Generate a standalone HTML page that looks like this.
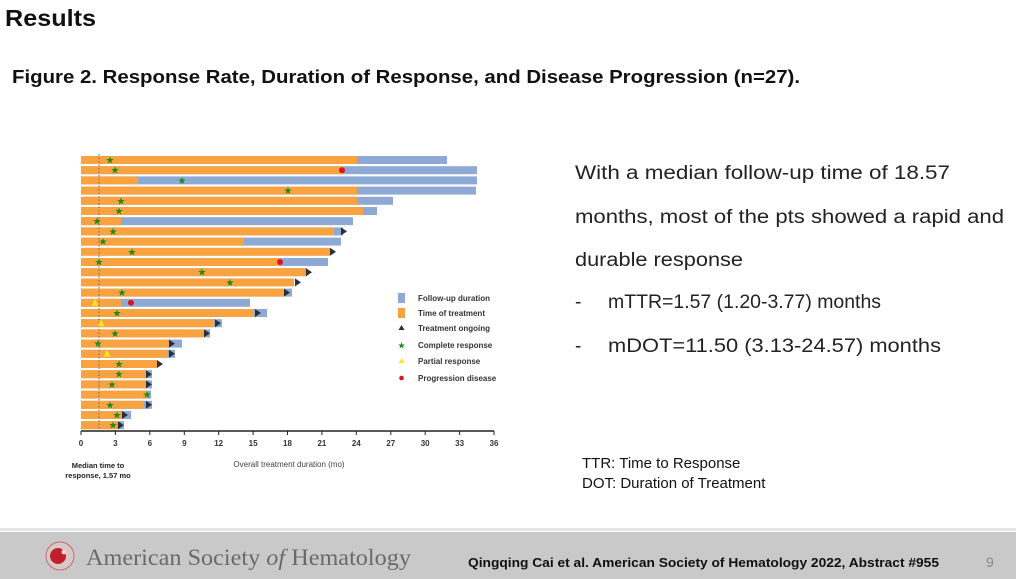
<!DOCTYPE html>
<html><head><meta charset="utf-8"><style>
html,body{margin:0;padding:0;background:#fff;}
svg{display:block;}
</style></head><body>
<svg width="1016" height="579" viewBox="0 0 1016 579" xmlns="http://www.w3.org/2000/svg" font-family="Liberation Sans, sans-serif">
<text x="5" y="26" font-size="23" font-weight="bold" fill="#111" textLength="91" lengthAdjust="spacingAndGlyphs">Results</text>
<text x="12" y="83" font-size="18" font-weight="bold" fill="#111" textLength="788" lengthAdjust="spacingAndGlyphs">Figure 2. Response Rate, Duration of Response, and Disease Progression (n=27).</text>

<g id="bars">
<!-- row: y = c-4 -->
<rect x="81" y="156" width="366" height="8" fill="#8eaad4"/><rect x="81" y="156" width="276" height="8" fill="#f9a340"/>
<rect x="81" y="166.2" width="396" height="8" fill="#8eaad4"/><rect x="81" y="166.2" width="262" height="8" fill="#f9a340"/>
<rect x="81" y="176.4" width="396" height="8" fill="#8eaad4"/><rect x="81" y="176.4" width="57" height="8" fill="#f9a340"/>
<rect x="81" y="186.6" width="395" height="8" fill="#8eaad4"/><rect x="81" y="186.6" width="276" height="8" fill="#f9a340"/>
<rect x="81" y="196.8" width="312" height="8" fill="#8eaad4"/><rect x="81" y="196.8" width="276" height="8" fill="#f9a340"/>
<rect x="81" y="207" width="296" height="8" fill="#8eaad4"/><rect x="81" y="207" width="282" height="8" fill="#f9a340"/>
<rect x="81" y="217.2" width="272" height="8" fill="#8eaad4"/><rect x="81" y="217.2" width="40" height="8" fill="#f9a340"/>
<rect x="81" y="227.4" width="262" height="8" fill="#8eaad4"/><rect x="81" y="227.4" width="253" height="8" fill="#f9a340"/>
<rect x="81" y="237.6" width="260" height="8" fill="#8eaad4"/><rect x="81" y="237.6" width="163" height="8" fill="#f9a340"/>
<rect x="81" y="247.8" width="249" height="8" fill="#f9a340"/>
<rect x="81" y="258" width="247" height="8" fill="#8eaad4"/><rect x="81" y="258" width="199" height="8" fill="#f9a340"/>
<rect x="81" y="268.2" width="226" height="8" fill="#8eaad4"/><rect x="81" y="268.2" width="224" height="8" fill="#f9a340"/>
<rect x="81" y="278.4" width="213" height="8" fill="#f9a340"/>
<rect x="81" y="288.6" width="211" height="8" fill="#8eaad4"/><rect x="81" y="288.6" width="203" height="8" fill="#f9a340"/>
<rect x="81" y="298.8" width="169" height="8" fill="#8eaad4"/><rect x="81" y="298.8" width="40" height="8" fill="#f9a340"/>
<rect x="81" y="309" width="186" height="8" fill="#8eaad4"/><rect x="81" y="309" width="173" height="8" fill="#f9a340"/>
<rect x="81" y="319.2" width="141" height="8" fill="#8eaad4"/><rect x="81" y="319.2" width="133" height="8" fill="#f9a340"/>
<rect x="81" y="329.4" width="129" height="8" fill="#8eaad4"/><rect x="81" y="329.4" width="124" height="8" fill="#f9a340"/>
<rect x="81" y="339.6" width="101" height="8" fill="#8eaad4"/><rect x="81" y="339.6" width="89" height="8" fill="#f9a340"/>
<rect x="81" y="349.8" width="94" height="8" fill="#8eaad4"/><rect x="81" y="349.8" width="87" height="8" fill="#f9a340"/>
<rect x="81" y="360" width="76" height="8" fill="#f9a340"/>
<rect x="81" y="370.2" width="71" height="8" fill="#8eaad4"/><rect x="81" y="370.2" width="66" height="8" fill="#f9a340"/>
<rect x="81" y="380.4" width="71" height="8" fill="#8eaad4"/><rect x="81" y="380.4" width="65" height="8" fill="#f9a340"/>
<rect x="81" y="390.6" width="70" height="8" fill="#8eaad4"/><rect x="81" y="390.6" width="66" height="8" fill="#f9a340"/>
<rect x="81" y="400.8" width="71" height="8" fill="#8eaad4"/><rect x="81" y="400.8" width="63" height="8" fill="#f9a340"/>
<rect x="81" y="411" width="50" height="8" fill="#8eaad4"/><rect x="81" y="411" width="42" height="8" fill="#f9a340"/>
<rect x="81" y="421.2" width="43" height="8" fill="#8eaad4"/><rect x="81" y="421.2" width="36" height="8" fill="#f9a340"/>
</g>
<line x1="99" y1="154" x2="99" y2="431" stroke="#666" stroke-width="1" stroke-dasharray="1.5,2"/>
<g fill="#2b2f3a">
<path d="M341,227.4 l6,4 l-6,4z"/>
<path d="M330,247.8 l6,4 l-6,4z"/>
<path d="M306,268.2 l6,4 l-6,4z"/>
<path d="M295,278.4 l6,4 l-6,4z"/>
<path d="M284,288.6 l6,4 l-6,4z"/>
<path d="M255,309 l6,4 l-6,4z"/>
<path d="M215,319.2 l6,4 l-6,4z"/>
<path d="M204,329.4 l6,4 l-6,4z"/>
<path d="M169,339.6 l6,4 l-6,4z"/>
<path d="M169,349.8 l6,4 l-6,4z"/>
<path d="M157,360 l6,4 l-6,4z"/>
<path d="M146,370.2 l6,4 l-6,4z"/>
<path d="M146,380.4 l6,4 l-6,4z"/>
<path d="M146,400.8 l6,4 l-6,4z"/>
<path d="M122,411 l6,4 l-6,4z"/>
<path d="M118,421.2 l6,4 l-6,4z"/>
</g>
<g fill="#1a8a1a" font-size="10" text-anchor="middle">
<text x="110" y="163.5">★</text><text x="115" y="173.7">★</text><text x="182" y="183.9">★</text>
<text x="288" y="194.1">★</text><text x="121" y="204.3">★</text><text x="119" y="214.5">★</text>
<text x="97" y="224.7">★</text><text x="113" y="234.9">★</text><text x="103" y="245.1">★</text>
<text x="132" y="255.3">★</text><text x="99" y="265.5">★</text><text x="202" y="275.7">★</text>
<text x="230" y="285.9">★</text><text x="122" y="296.1">★</text><text x="117" y="316.5">★</text>
<text x="115" y="336.9">★</text><text x="98" y="347.1">★</text><text x="119" y="367.5">★</text>
<text x="119" y="377.7">★</text><text x="112" y="387.9">★</text><text x="147" y="398.1">★</text>
<text x="110" y="408.3">★</text><text x="117" y="418.5">★</text><text x="113" y="428.7">★</text>
</g>
<g fill="#ffe81a">
<path d="M95,298.8 l3.5,7 h-7z"/><path d="M101,319.2 l3.5,7 h-7z"/><path d="M107,349.8 l3.5,7 h-7z"/>
</g>
<g fill="#e0141e">
<circle cx="342" cy="170.2" r="3"/><circle cx="280" cy="262" r="3"/><circle cx="131" cy="302.8" r="3"/>
</g>
<!-- axis -->
<line x1="81" y1="431" x2="494" y2="431" stroke="#222" stroke-width="1.5"/>
<g stroke="#222" stroke-width="1">
<line x1="81" y1="431" x2="81" y2="435"/><line x1="115.4" y1="431" x2="115.4" y2="435"/><line x1="149.8" y1="431" x2="149.8" y2="435"/><line x1="184.3" y1="431" x2="184.3" y2="435"/><line x1="218.7" y1="431" x2="218.7" y2="435"/><line x1="253.1" y1="431" x2="253.1" y2="435"/><line x1="287.5" y1="431" x2="287.5" y2="435"/><line x1="321.9" y1="431" x2="321.9" y2="435"/><line x1="356.3" y1="431" x2="356.3" y2="435"/><line x1="390.8" y1="431" x2="390.8" y2="435"/><line x1="425.2" y1="431" x2="425.2" y2="435"/><line x1="459.6" y1="431" x2="459.6" y2="435"/><line x1="494" y1="431" x2="494" y2="435"/>
</g>
<g font-size="8" font-weight="bold" fill="#333" text-anchor="middle">
<text x="81" y="446">0</text><text x="115.4" y="446">3</text><text x="149.8" y="446">6</text><text x="184.3" y="446">9</text><text x="218.7" y="446">12</text><text x="253.1" y="446">15</text><text x="287.5" y="446">18</text><text x="321.9" y="446">21</text><text x="356.3" y="446">24</text><text x="390.8" y="446">27</text><text x="425.2" y="446">30</text><text x="459.6" y="446">33</text><text x="494" y="446">36</text>
</g>
<text x="289" y="467" font-size="8" fill="#444" text-anchor="middle">Overall treatment duration (mo)</text>
<text x="98" y="468" font-size="7.5" font-weight="bold" fill="#222" text-anchor="middle">Median time to</text>
<text x="98" y="478" font-size="7.5" font-weight="bold" fill="#222" text-anchor="middle">response, 1.57 mo</text>
<!-- legend -->
<rect x="398" y="293" width="7" height="10" fill="#8eaad4"/>
<rect x="398" y="308" width="7" height="10" fill="#f9a340"/>
<path d="M401.5,325 l3,5 h-6z" fill="#2b2f3a"/>
<text x="401.5" y="348.5" font-size="9" fill="#1a8a1a" text-anchor="middle">★</text>
<path d="M401.5,358 l3,5 h-6z" fill="#ffe81a"/>
<circle cx="401.5" cy="378" r="2.3" fill="#e0141e"/>
<g font-size="8" font-weight="bold" fill="#333">
<text x="418" y="301">Follow-up duration</text>
<text x="418" y="316">Time of treatment</text>
<text x="418" y="331">Treatment ongoing</text>
<text x="418" y="348">Complete response</text>
<text x="418" y="364">Partial response</text>
<text x="418" y="381">Progression disease</text>
</g>
<!-- right text -->
<g font-size="19" fill="#222">
<text x="575" y="179" textLength="375" lengthAdjust="spacingAndGlyphs">With a median follow-up time of 18.57</text>
<text x="575" y="223" textLength="429" lengthAdjust="spacingAndGlyphs">months, most of the pts showed a rapid and</text>
<text x="575" y="266" textLength="168" lengthAdjust="spacingAndGlyphs">durable response</text>
<text x="575" y="308">-</text>
<text x="608" y="308" textLength="273" lengthAdjust="spacingAndGlyphs">mTTR=1.57 (1.20-3.77) months</text>
<text x="575" y="352">-</text>
<text x="608" y="352" textLength="333" lengthAdjust="spacingAndGlyphs">mDOT=11.50 (3.13-24.57) months</text>
</g>
<text x="582" y="468" font-size="15" fill="#111">TTR: Time to Response</text>
<text x="582" y="488" font-size="15" fill="#111">DOT: Duration of Treatment</text>
<!-- footer -->
<rect x="0" y="528" width="1016" height="3" fill="#e6e6e6"/>
<rect x="0" y="532" width="1016" height="47" fill="#c9c9c9"/>
<circle cx="60" cy="556" r="14" fill="#d8c8c8" stroke="#c07070" stroke-width="1"/>
<circle cx="58" cy="556" r="8" fill="#c0202e"/>
<circle cx="64" cy="552" r="2.5" fill="#f4d0d0"/>
<text x="86" y="565" font-family="Liberation Serif, serif" font-size="23" fill="#6a6a6a" textLength="325" lengthAdjust="spacingAndGlyphs">American Society <tspan font-style="italic">of</tspan> Hematology</text>
<text x="468" y="567" font-size="13" font-weight="bold" fill="#111" textLength="471" lengthAdjust="spacingAndGlyphs">Qingqing Cai et al. American Society of Hematology 2022, Abstract #955</text>
<text x="986" y="567" font-size="14" fill="#888">9</text>
</svg>
</body></html>
